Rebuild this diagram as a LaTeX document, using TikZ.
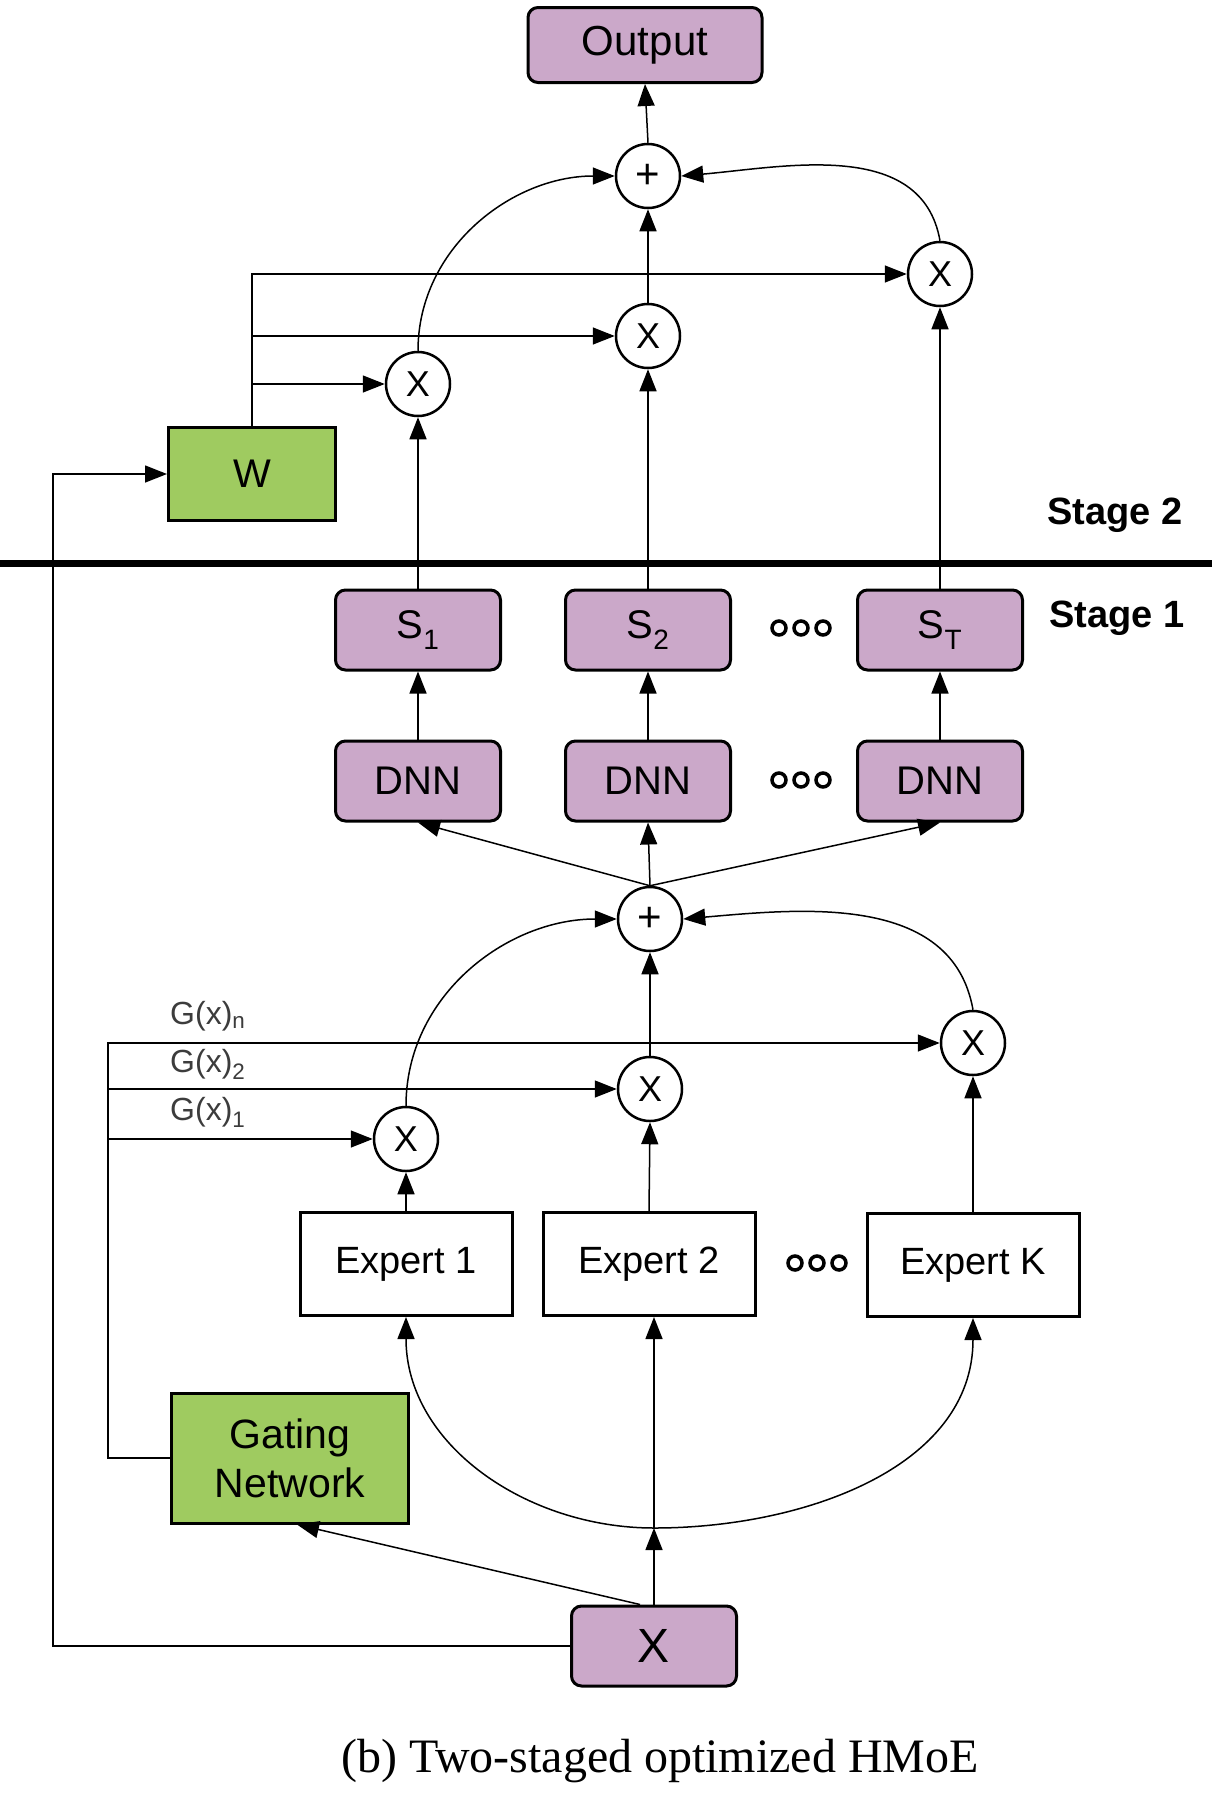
\documentclass[tikz,border=0pt]{standalone}
\usepackage{fontspec}
\setmainfont{Liberation Sans}
\newfontfamily\capfont{Liberation Serif}
\usetikzlibrary{arrows.meta,calc}
\definecolor{mauve}{RGB}{203,168,201}
\definecolor{leaf}{RGB}{159,203,96}
\definecolor{labgray}{RGB}{60,60,60}
\begin{document}
\begin{tikzpicture}[x=1pt,y=-1pt,
  pbox/.style={draw, line width=3pt, fill=mauve, rounded corners=10pt, inner sep=0pt, text=black},
  gbox/.style={draw, line width=3pt, fill=leaf, inner sep=0pt, align=center},
  ebox/.style={draw, line width=3pt, fill=white, inner sep=0pt},
  op/.style={draw, circle, line width=2.5pt, minimum size=64pt, inner sep=0pt, fill=white},
  conn/.style={line width=1.5pt, -{Triangle[length=22pt,width=17pt]}},
  plain/.style={line width=1.5pt},
  dotc/.style={line width=3.5pt},
  lab/.style={inner sep=0pt, anchor=west, text=labgray, font=\fontsize{32}{38}\selectfont},
  stg/.style={inner sep=0pt, font=\bfseries\fontsize{38}{44}\selectfont},
  mfont/.style={font=\fontsize{36}{42}\selectfont},
  bfont/.style={font=\fontsize{40}{48}\selectfont}
]
\useasboundingbox (0,0) rectangle (1218,1794);

% Stage 2
\node[pbox, minimum width=234pt, minimum height=75pt, font=\fontsize{42}{50}\selectfont] (out) at (645,45) {Output};
\node[op, font=\fontsize{42}{48}\selectfont] (p2) at (648,176) {+};
\node[op, mfont] (m3) at (940,274) {X};
\node[op, mfont] (m2t) at (648,336) {X};
\node[op, mfont] (m1t) at (418,384) {X};
\node[gbox, minimum width=167pt, minimum height=93pt, bfont] (W) at (252,474) {W};
\node[stg] (st2) at (1115,515) {Stage 2};

\coordinate (tl) at (0,563);
\coordinate (tr) at (1212,563);
\draw[line width=7pt] (tl) -- (tr);

% Stage 1
\node[pbox, minimum width=165pt, minimum height=80pt, bfont] (S1) at (418,630) {S\textsubscript{1}};
\node[pbox, minimum width=165pt, minimum height=80pt, bfont] (S2) at (648,630) {S\textsubscript{2}};
\node[pbox, minimum width=165pt, minimum height=80pt, bfont] (ST) at (940,630) {S\textsubscript{T}};
\node[stg] (st1) at (1117,618) {Stage 1};

\node[pbox, minimum width=165pt, minimum height=80pt, bfont] (D1) at (418,781) {DNN};
\node[pbox, minimum width=165pt, minimum height=80pt, bfont] (D2) at (648,781) {DNN};
\node[pbox, minimum width=165pt, minimum height=80pt, bfont] (D3) at (940,781) {DNN};

\foreach \dx in {-22,0,22} {
  \draw[dotc] ({801+\dx},628) circle (7pt);
  \draw[dotc] ({801+\dx},780) circle (7pt);
  \draw[dotc] ({817+\dx},1263) circle (7pt);
}

\node[op, font=\fontsize{42}{48}\selectfont] (p1) at (650,919) {+};
\node[op, mfont] (mnb) at (973,1043) {X};
\node[op, mfont] (m2b) at (650,1089) {X};
\node[op, mfont] (m1b) at (406,1139) {X};

\node[lab] (gn) at (170,1016) {G(x)\textsubscript{n}};
\node[lab] (g2) at (170,1064) {G(x)\textsubscript{2}};
\node[lab] (g1) at (170,1112) {G(x)\textsubscript{1}};

\node[ebox, minimum width=212pt, minimum height=103pt, font=\fontsize{38}{46}\selectfont] (E1) at (406,1264) {Expert 1};
\node[ebox, minimum width=212pt, minimum height=103pt, font=\fontsize{38}{46}\selectfont] (E2) at (649,1264) {Expert 2};
\node[ebox, minimum width=212pt, minimum height=103pt, font=\fontsize{38}{46}\selectfont] (EK) at (973,1265) {Expert K};

\node[gbox, minimum width=237pt, minimum height=130pt, font=\fontsize{41}{49}\selectfont] (G) at (290,1458) {Gating\\Network};
\node[pbox, minimum width=165pt, minimum height=80pt, font=\fontsize{48}{54}\selectfont] (X) at (654,1646) {X};

\node[inner sep=0pt, font=\capfont\fontsize{48}{56}\selectfont] (cap) at (660,1761) {(b) Two-staged optimized HMoE};

% connectors stage 2
\draw[conn] (p2.north) -- (out.south);
\draw[conn] (m2t.north) -- (p2.south);
\draw[conn] (m1t.north) to[out=90,in=180] (p2.west);
\draw[conn] (m3.north) to[out=100,in=5] (p2.east);
\draw[conn] (W.north) |- (m3.west);
\draw[conn] (W.north |- m2t.west) -- (m2t.west);
\draw[conn] (W.north |- m1t.west) -- (m1t.west);
\draw[conn] (S1.north) -- (m1t.south);
\draw[conn] (S2.north) -- (m2t.south);
\draw[conn] (ST.north) -- (m3.south);

% stage 1
\draw[conn] (D1.north) -- (S1.south);
\draw[conn] (D2.north) -- (S2.south);
\draw[conn] (D3.north) -- (ST.south);
\draw[conn] (p1.north) -- (D1.south);
\draw[conn] (p1.north) -- (D2.south);
\draw[conn] (p1.north) -- (D3.south);
\draw[conn] (m2b.north) -- (p1.south);
\draw[conn] (m1b.north) to[out=90,in=180] (p1.west);
\draw[conn] (mnb.north) to[out=100,in=5] (p1.east);
\draw[conn] (E1.north) -- (m1b.south);
\draw[conn] (E2.north) -- (m2b.south);
\draw[conn] (EK.north) -- (mnb.south);

\coordinate (gl) at (108,0);
\draw[conn] (G.west) -| (gl |- mnb.west) -- (mnb.west);
\draw[conn] (gl |- m2b.west) -- (m2b.west);
\draw[conn] (gl |- m1b.west) -- (m1b.west);

\coordinate (jn) at (654,1528);
\draw[conn] (X.north) -- (jn);
\draw[conn] (jn) -- (jn |- E2.south);
\draw[conn] (jn) to[out=180,in=-90] (E1.south);
\draw[conn] (jn) to[out=0,in=-90] (EK.south);
\draw[conn] ([xshift=-14pt]X.north) -- ([xshift=7pt]G.south);

\coordinate (lft) at (53,0);
\draw[conn] (X.west) -| (lft |- W.west) -- (W.west);
\end{tikzpicture}
\end{document}
